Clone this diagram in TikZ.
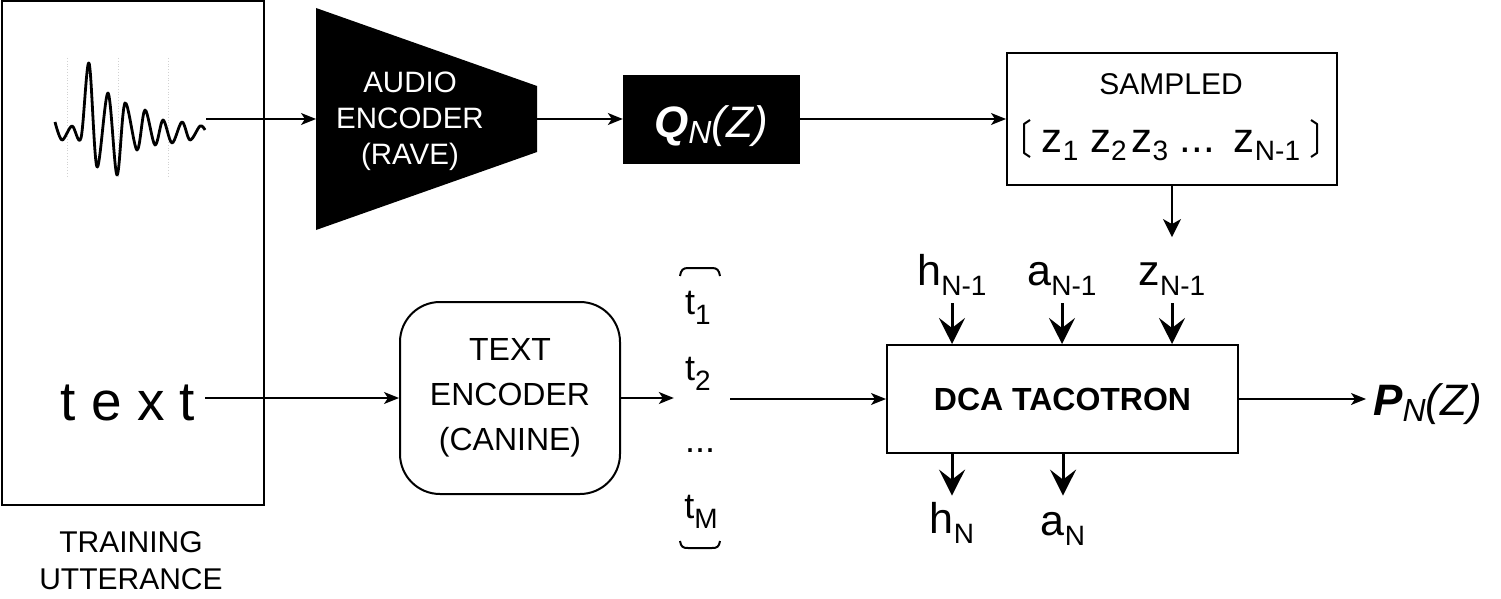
\documentclass[tikz,border=0pt]{standalone}
\usepackage{fontspec}
\setmainfont{Liberation Sans}
\usetikzlibrary{arrows.meta}
\newcommand{\myfs}[2]{\fontsize{#1pt}{#2pt}\selectfont}
\newcommand{\mysub}[3]{\raisebox{-#2}{\myfs{#1}{#1}#3}}
\begin{document}
\begin{tikzpicture}[x=1pt,y=-1pt,
  thinarrow/.style={line width=1.5pt,-{Stealth[length=15pt,width=12pt,inset=4pt]}},
  thickarrow/.style={line width=3pt,-{Stealth[length=26pt,width=26pt,inset=10pt]}},
  box/.style={draw,line width=2pt,inner sep=0pt},
  lbl/.style={inner sep=0pt,anchor=base},
  brk/.style={line width=2pt,line join=round}]
\useasboundingbox (0,0) rectangle (1501,599);

% training utterance box
\node[box,minimum width=262pt,minimum height=504pt] (train) at (133,253) {};
\node[inner sep=0pt,align=center,font=\myfs{30}{37}] (trainlbl) at (131,561) {TRAINING\\UTTERANCE};

% waveform
\foreach \gx in {67,118,168} \draw[gray!35,dotted,line width=0.8pt] (\gx,58) -- (\gx,178);
\draw[line width=2.8pt,line join=round] plot[smooth,tension=0.55] coordinates {
 (55,122) (62,140) (72,126) (81,138) (89,63) (97,167) (108,93) (117,175) (125,103)
 (137,150) (145,110) (155,145) (163,120) (172,143) (182,122) (190,140) (200,126) (205,130)};
\coordinate (wave) at (206,119);

% text
\node[lbl,font=\myfs{55}{55}] (txt) at (128,420) {t e x t};

% audio encoder
\fill (316,8) -- (537,86) -- (537,152) -- (316,230) -- cycle;
\coordinate (aein) at (316,119);
\coordinate (aeout) at (537,119);
\node[inner sep=0pt,text=white,align=center,font=\myfs{29.5}{36}] (aetext) at (410,121) {AUDIO\\ENCODER\\(RAVE)};

% Q box
\node[fill=black,draw=black,minimum width=176pt,minimum height=88pt,inner sep=0pt,
  text=white,text height=40pt,text depth=4pt,font=\myfs{44}{44}] (q) at (711,119)
  {\textbf{\textit{Q}}\mysub{32}{6pt}{\textit{N}}\textit{(Z)}};

% sampled box
\node[box,minimum width=330pt,minimum height=132pt] (samp) at (1172,119) {};
\node[lbl,font=\myfs{30}{30}] (samptitle) at (1171,95) {SAMPLED};
\node[lbl,font=\myfs{42}{42}] (zrow) at (1171,152)
  {z\mysub{28}{9pt}{1} z\mysub{28}{9pt}{2}\hspace{5pt}z\mysub{28}{9pt}{3} ...\hspace{19pt}z\mysub{28}{9pt}{N-1}};
\draw[brk] (1030,120) -- (1024,124) -- (1024,153) -- (1030,157);
\draw[brk] (1311,120) -- (1317,124) -- (1317,153) -- (1311,157);

% text encoder
\node[box,rounded corners=40pt,minimum width=220pt,minimum height=192pt,align=center,
  font=\myfs{32}{45}] (te) at (510,398) {TEXT\\ENCODER\\(CANINE)};

% token column
\node[inner sep=0pt,minimum width=56pt,minimum height=290pt] (tcol) at (700,408) {};
\node[lbl,font=\myfs{36}{36}] (t1) at (698,314) {t\mysub{28}{10pt}{1}};
\node[lbl,font=\myfs{36}{36}] (t2) at (698,380) {t\mysub{28}{10pt}{2}};
\node[lbl,font=\myfs{36}{36}] (tdots) at (700,452) {...};
\node[lbl,font=\myfs{36}{36}] (tm) at (701,518) {t\mysub{28}{10pt}{M}};
\draw[brk] (680,276) .. controls (681,270) and (683,268) .. (688,268) -- (712,268)
  .. controls (717,268) and (719,270) .. (720,276);
\draw[brk] (680,541) .. controls (681,547) and (683,548) .. (688,548) -- (712,548)
  .. controls (717,548) and (719,547) .. (720,541);

% DCA tacotron
\node[box,minimum width=351pt,minimum height=108pt,font=\myfs{32}{32}\bfseries] (dca) at (1062.5,399) {DCA TACOTRON};

% input / output labels
\node[lbl,font=\myfs{43}{43}] (hin) at (952,285) {h\mysub{28}{10pt}{N-1}};
\node[lbl,font=\myfs{43}{43}] (ain) at (1062,285) {a\mysub{28}{10pt}{N-1}};
\node[lbl,font=\myfs{43}{43}] (zin) at (1172,285) {z\mysub{28}{10pt}{N-1}};
\node[lbl,font=\myfs{43}{43}] (hout) at (952,533) {h\mysub{28}{10pt}{N}};
\node[lbl,font=\myfs{43}{43}] (aout) at (1063,535) {a\mysub{28}{10pt}{N}};
\node[lbl,anchor=base west,font=\myfs{44}{44}] (pout) at (1373,415)
  {\textbf{\textit{P}}\mysub{32}{6pt}{\textit{N}}\textit{(Z)}};
\coordinate (outend) at ([yshift=6pt]hout.north);

% connectors
\draw[thinarrow] (wave) -- (aein);
\draw[thinarrow] (aeout) -- (q.west);
\draw[thinarrow] (q.east) -- (samp.west |- q.east);
\draw[line width=2pt,-{Stealth[length=18pt,width=18pt,inset=5pt]}] (samp.south -| zin.north) -- ([yshift=25pt]zin.north);
\draw[thinarrow] ([xshift=10pt]txt.east |- te.west) -- (te.west);
\draw[thinarrow] (te.east) -- ([xshift=2pt]tcol.west |- te.east);
\draw[thinarrow] ([xshift=2pt]tcol.east |- dca.west) -- (dca.west);
\draw[thinarrow,shorten >=7pt] (dca.east) -- (dca.east -| pout.west);
\draw[thickarrow] ([yshift=-8pt]hin.south) -- (hin.south |- dca.north);
\draw[thickarrow] ([yshift=-8pt]ain.south) -- (ain.south |- dca.north);
\draw[thickarrow] ([yshift=-8pt]zin.south) -- (zin.south |- dca.north);
\draw[thickarrow] (dca.south -| hout.north) -- (outend);
\draw[thickarrow] (dca.south -| aout.north) -- (outend -| aout.north);
\end{tikzpicture}
\end{document}
